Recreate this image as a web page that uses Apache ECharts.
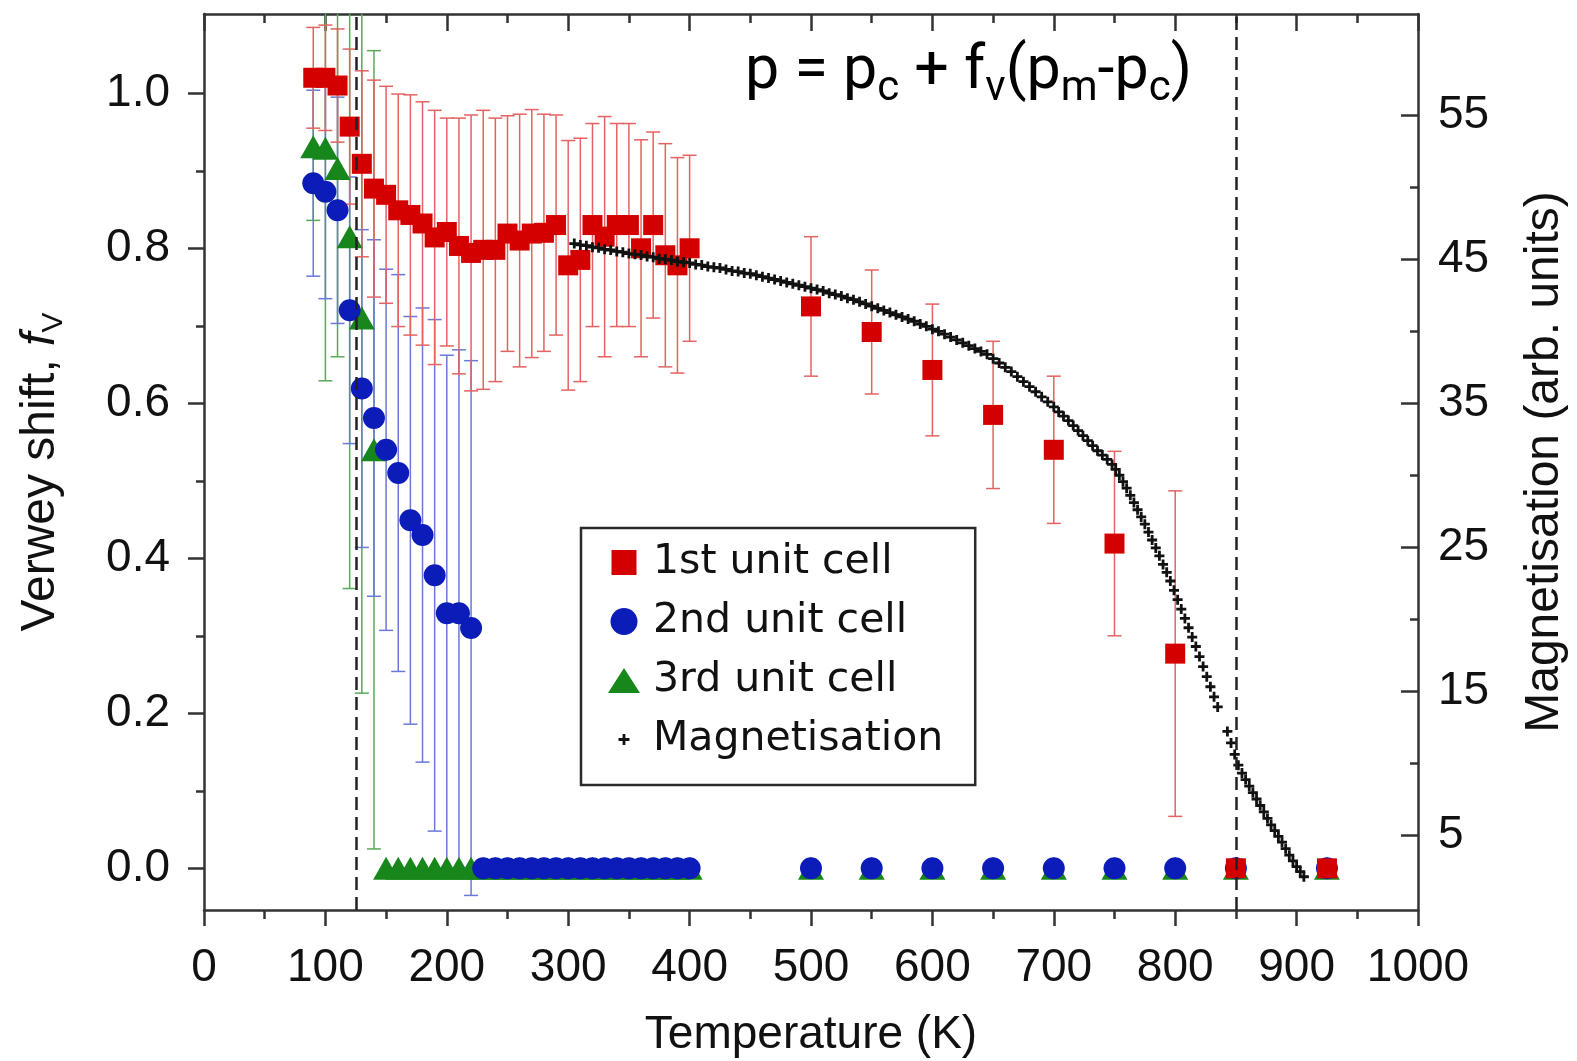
<!DOCTYPE html>
<html><head><meta charset="utf-8">
<script src="https://cdn.jsdelivr.net/npm/echarts@6/dist/echarts.min.js"></script>
<style>html,body{margin:0;padding:0;background:#fff}#c{width:1577px;height:1061px}</style>
</head><body><div id="c"></div>
<script>
// ---- data ----
const temps1 = [90,100,110,120,130,140,150,160,170,180,190,200,210,220,230,240,250,260,270,280,290,300,310,320,330,340,350,360,370,380,390,400,500,550,600,650,700,750,800,850,925];
const fv1 =    [1.02,1.02,1.01,0.957,0.909,0.877,0.869,0.849,0.843,0.832,0.814,0.821,0.803,0.794,0.798,0.798,0.819,0.81,0.819,0.82,0.83,0.778,0.785,0.83,0.815,0.83,0.83,0.80,0.83,0.791,0.778,0.80,0.725,0.692,0.643,0.585,0.54,0.419,0.277,0,0];
const err1 =   [0.065,0.068,0.073,0.10,0.12,0.14,0.14,0.15,0.155,0.157,0.164,0.147,0.165,0.178,0.18,0.17,0.152,0.163,0.16,0.153,0.142,0.161,0.157,0.131,0.155,0.131,0.131,0.14,0.12,0.144,0.139,0.12,0.09,0.08,0.085,0.095,0.095,0.119,0.21,0,0];

const temps2 = [90,100,110,120,130,140,150,160,170,180,190,200,210,220,230,240,250,260,270,280,290,300,310,320,330,340,350,360,370,380,390,400,500,550,600,650,700,750,800,850,925];
const fv2 =    [0.884,0.873,0.849,0.72,0.619,0.581,0.54,0.51,0.449,0.43,0.378,0.329,0.329,0.31,0,0,0,0,0,0,0,0,0,0,0,0,0,0,0,0,0,0,0,0,0,0,0,0,0,0,0];
const err2 =   [0.12,0.138,0.146,0.172,0.205,0.23,0.233,0.256,0.263,0.293,0.33,0.333,0.34,0.345,0,0,0,0,0,0,0,0,0,0,0,0,0,0,0,0,0,0,0,0,0,0,0,0,0,0,0];

const temps3 = [90,100,110,120,130,140,150,160,170,180,190,200,210,220,230,240,250,260,270,280,290,300,310,320,330,340,350,360,370,380,390,400,500,550,600,650,700,750,800,850,925];
const fv3 =    [0.931,0.929,0.903,0.815,0.71,0.54,0,0,0,0,0,0,0,0,0,0,0,0,0,0,0,0,0,0,0,0,0,0,0,0,0,0,0,0,0,0,0,0,0,0,0];
const err3 =   [0.095,0.30,0.243,0.454,0.484,0.515,0,0,0,0,0,0,0,0,0,0,0,0,0,0,0,0,0,0,0,0,0,0,0,0,0,0,0,0,0,0,0,0,0,0,0];

const magT = [305,310,315,320,325,330,335,340,345,350,355,360,365,370,375,380,385,390,395,400,405,410,415,420,425,430,435,440,445,450,455,460,465,470,475,480,485,490,495,500,505,510,515,520,525,530,535,540,545,550,555,560,565,570,575,580,585,590,595,600,605,610,615,620,625,630,635,640,645,650,655,660,665,670,675,680,685,690,695,700,704,708,712,716,720,724,728,732,736,740,744,748,751,754,757,760,763,766,769,772,775,778,781,784,787,790,793,796,799,802,805,808,811,814,817,820,823,826,829,832,835,843,846,849,852,855,858,861,864,867,870,873,876,879,882,885,888,891,894,897,900,903,906];
const magM = [46.1,46.0,45.95,45.85,45.8,45.7,45.65,45.55,45.5,45.4,45.35,45.3,45.2,45.15,45.05,45.0,44.95,44.85,44.8,44.75,44.65,44.6,44.5,44.45,44.4,44.3,44.2,44.15,44.05,44.0,43.9,43.8,43.7,43.6,43.5,43.4,43.3,43.2,43.1,43.0,42.9,42.8,42.65,42.55,42.45,42.3,42.2,42.05,41.9,41.75,41.6,41.45,41.3,41.15,41.0,40.85,40.7,40.5,40.35,40.15,40.0,39.8,39.6,39.4,39.2,39.0,38.8,38.6,38.4,38.1,37.8,37.5,37.2,36.85,36.5,36.15,35.8,35.45,35.1,34.75,34.4,34.1,33.8,33.45,33.1,32.75,32.4,32.05,31.7,31.4,31.1,30.75,30.4,30.0,29.55,29.1,28.6,28.1,27.6,27.1,26.6,26.05,25.5,24.95,24.4,23.8,23.25,22.65,22.0,21.35,20.7,20.05,19.4,18.75,18.1,17.4,16.7,16.0,15.3,14.6,13.9,12.2,11.4,10.6,9.85,9.3,8.85,8.4,7.95,7.5,7.05,6.6,6.15,5.7,5.3,4.9,4.5,4.05,3.6,3.2,2.8,2.45,2.1];

const transitionT = [125, 850];
const fvMajorTicks = [0, 0.2, 0.4, 0.6, 0.8, 1.0];
const fvMinorTicks = [0.1, 0.3, 0.5, 0.7, 0.9];
const magMajorTicks = [5, 15, 25, 35, 45, 55];
const magMinorTicks = [10, 20, 30, 40, 50];

// ---- styling ----
const AX = '#333';
const TX = '#111';
const LAB = 'Liberation Sans, Arial, sans-serif';
const FV_MIN = -0.0538, FV_MAX = 1.1023;
const M_MIN = -0.212, M_MAX = 62.05;

const pack = (t, v, e) => t.map((x, i) => [x, v[i], e[i]]);
const d1 = pack(temps1, fv1, err1);
const d2 = pack(temps2, fv2, err2);
const d3 = pack(temps3, fv3, err3);
const dm = magT.map((t, i) => [t, magM[i]]);

function errRender(color) {
  return function (params, api) {
    const x = api.value(0), v = api.value(1), e = api.value(2);
    if (!e) return null;
    const lo = api.coord([x, v - e]);
    const hi = api.coord([x, v + e]);
    const hw = 7;
    const st = { stroke: color, lineWidth: 1.5 };
    return {
      type: 'group',
      children: [
        { type: 'line', shape: { x1: lo[0], y1: lo[1], x2: hi[0], y2: hi[1] }, style: st },
        { type: 'line', shape: { x1: lo[0] - hw, y1: lo[1], x2: lo[0] + hw, y2: lo[1] }, style: st },
        { type: 'line', shape: { x1: hi[0] - hw, y1: hi[1], x2: hi[0] + hw, y2: hi[1] }, style: st }
      ]
    };
  };
}

const ICON_SQ = 'path://M0 0M48 30M11.5 2.5h25v25h-25z';
const ICON_CI = 'path://M0 0M48 30M37.5 15A13.5 13.5 0 1 1 10.5 15A13.5 13.5 0 1 1 37.5 15z';
const ICON_TR = 'path://M0 0M48 30M24 2.5L40 27.5L8 27.5z';
const ICON_PL = 'path://M0 0M48 30M22.6 9.5h2.8v4.1h4.1v2.8h-4.1v4.1h-2.8v-4.1h-4.1v-2.8h4.1z';
const PLUS = 'path://M3.6 0h2.8v3.6h3.6v2.8h-3.6v3.6h-2.8v-3.6h-3.6v-2.8h3.6z';

const tickLine = { color: AX, width: 2.5 };

const option = {
  animation: false,
  backgroundColor: '#fff',
  grid: { left: 204, right: 159, top: 14, bottom: 151, containLabel: false, outerBoundsMode: 'none' },
  xAxis: [
    {
      type: 'value', min: 0, max: 1000, interval: 100, position: 'bottom',
      axisLine: { show: true, onZero: false, lineStyle: { color: AX, width: 2.5 } },
      axisTick: { show: true, length: 16, lineStyle: tickLine },
      minorTick: { show: true, splitNumber: 2, length: 9, lineStyle: tickLine },
      splitLine: { show: false }, minorSplitLine: { show: false },
      axisLabel: { fontFamily: LAB, fontSize: 46, color: TX, margin: 35, showMinLabel: true, showMaxLabel: true, formatter: v => String(v) },
      name: 'Temperature (K)', nameLocation: 'middle', nameGap: 102,
      nameTextStyle: { fontFamily: LAB, fontSize: 46, color: TX }
    },
    {
      type: 'value', min: 0, max: 1000, interval: 100, position: 'top',
      axisLine: { show: true, onZero: false, lineStyle: { color: AX, width: 2.5 } },
      axisTick: { show: true, inside: true, length: 17, lineStyle: tickLine },
      minorTick: { show: true, splitNumber: 2, length: 9, lineStyle: tickLine },
      splitLine: { show: false }, minorSplitLine: { show: false },
      axisLabel: { show: false }
    }
  ],
  yAxis: [
    {
      type: 'value', position: 'left', min: FV_MIN, max: FV_MAX,
      axisLine: { show: true, onZero: false, lineStyle: { color: AX, width: 2.5 } },
      axisTick: { show: true, length: 16, lineStyle: tickLine, customValues: fvMajorTicks },
      axisLabel: { customValues: fvMajorTicks, formatter: v => v.toFixed(1), fontFamily: LAB, fontSize: 46, color: TX, margin: 34 },
      splitLine: { show: false },
      name: '{a|Verwey shift, }{f|f}{s|V}', nameLocation: 'middle', nameRotate: 90, nameGap: 135,
      nameTextStyle: {
        fontFamily: LAB, fontSize: 48, color: TX, padding: [0, 20, 0, 0],
        rich: {
          a: { fontFamily: LAB, fontSize: 48, lineHeight: 56, color: TX },
          f: { fontFamily: LAB, fontSize: 48, lineHeight: 56, fontStyle: 'italic', color: TX },
          s: { fontFamily: LAB, fontSize: 30, lineHeight: 30, verticalAlign: 'bottom', color: TX }
        }
      }
    },
    {
      type: 'value', position: 'left', min: FV_MIN, max: FV_MAX,
      axisLine: { show: false, onZero: false },
      axisTick: { show: true, length: 8, lineStyle: tickLine, customValues: fvMinorTicks },
      axisLabel: { show: false }, splitLine: { show: false }
    },
    {
      type: 'value', position: 'right', min: M_MIN, max: M_MAX,
      axisLine: { show: true, onZero: false, lineStyle: { color: AX, width: 2.5 } },
      axisTick: { show: true, inside: true, length: 17, lineStyle: tickLine, customValues: magMajorTicks },
      axisLabel: { customValues: magMajorTicks, fontFamily: LAB, fontSize: 46, color: TX, margin: 20 },
      splitLine: { show: false },
      name: 'Magnetisation (arb. units)', nameLocation: 'middle', nameRotate: 90, nameGap: 103,
      nameTextStyle: { fontFamily: LAB, fontSize: 48, color: TX }
    },
    {
      type: 'value', position: 'right', min: M_MIN, max: M_MAX,
      axisLine: { show: false, onZero: false },
      axisTick: { show: true, inside: true, length: 8, lineStyle: tickLine, customValues: magMinorTicks },
      axisLabel: { show: false }, splitLine: { show: false }
    }
  ],
  legend: {
    orient: 'vertical', left: 581, top: 528, padding: [14, 32, 25, 19],
    itemWidth: 48, itemHeight: 30, itemGap: 18,
    borderColor: '#2a2a2a', borderWidth: 2.5, backgroundColor: '#fff',
    selectedMode: false,
    textStyle: { fontFamily: 'DejaVu Sans', fontSize: 41, color: TX },
    data: [
      { name: '1st unit cell', icon: ICON_SQ },
      { name: '2nd unit cell', icon: ICON_CI },
      { name: '3rd unit cell', icon: ICON_TR },
      { name: 'Magnetisation', icon: ICON_PL }
    ]
  },
  graphic: [
    {
      type: 'text', left: 745, top: 42, z: 100,
      style: {
        text: '{n|p = p}{s|c}{n| + f}{s|v}{n|(p}{s|m}{n|-p}{s|c}{n|)}',
        rich: {
          n: { fontFamily: 'Roboto', fontSize: 61, lineHeight: 75, fill: '#000' },
          s: { fontFamily: 'Roboto', fontSize: 42, lineHeight: 42, verticalAlign: 'bottom', fill: '#000' }
        }
      }
    }
  ],
  series: [
    { name: 'err3', type: 'custom', xAxisIndex: 0, yAxisIndex: 0, clip: true, renderItem: errRender('#5aa95a'), encode: { x: 0, y: 1 }, data: d3, silent: true },
    { name: 'err2', type: 'custom', xAxisIndex: 0, yAxisIndex: 0, clip: true, renderItem: errRender('#6a78d8'), encode: { x: 0, y: 1 }, data: d2, silent: true },
    { name: 'err1', type: 'custom', xAxisIndex: 0, yAxisIndex: 0, clip: true, renderItem: errRender('#e46262'), encode: { x: 0, y: 1 }, data: d1, silent: true },
    { name: '3rd unit cell', type: 'scatter', xAxisIndex: 0, yAxisIndex: 0, symbol: 'triangle', symbolSize: [26, 23], itemStyle: { color: '#17871c', opacity: 1 }, data: d3 },
    { name: '2nd unit cell', type: 'scatter', xAxisIndex: 0, yAxisIndex: 0, symbol: 'circle', symbolSize: 22, itemStyle: { color: '#0c1cb8', opacity: 1 }, data: d2 },
    { name: '1st unit cell', type: 'scatter', xAxisIndex: 0, yAxisIndex: 0, symbol: 'rect', symbolSize: 20, itemStyle: { color: '#d40000', opacity: 1 }, data: d1 },
    {
      name: 'Magnetisation', type: 'scatter', xAxisIndex: 0, yAxisIndex: 2, symbol: PLUS, symbolSize: 10,
      itemStyle: { color: '#111', opacity: 1 }, data: dm,
      markLine: {
        silent: true, symbol: 'none', label: { show: false },
        lineStyle: { type: [13, 7], color: '#222', width: 2.5 },
        data: transitionT.map(t => ({ xAxis: t }))
      }
    }
  ]
};

const chart = echarts.init(document.getElementById('c'), null, { renderer: 'canvas' });
chart.setOption(option);
</script></body></html>
